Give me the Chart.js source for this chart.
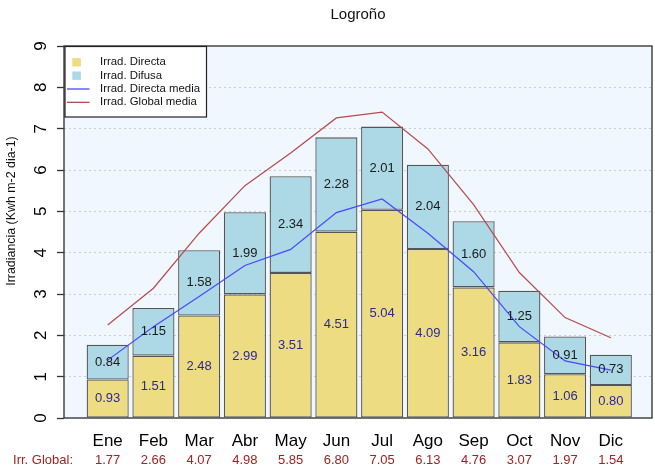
<!DOCTYPE html>
<html>
<head>
<meta charset="utf-8">
<script src="https://cdn.jsdelivr.net/npm/chart.js@4.4.1/dist/chart.umd.min.js"></script>
<style>
  html, body { margin: 0; padding: 0; background: #ffffff; }
  #wrap { width: 655px; height: 473px; }
</style>
</head>
<body>
<div id="wrap"><canvas id="chart" width="655" height="473"></canvas></div>
<script>
// Monthly irradiance for Logroño (kWh m-2 day-1)
const months = ['Ene', 'Feb', 'Mar', 'Abr', 'May', 'Jun', 'Jul', 'Ago', 'Sep', 'Oct', 'Nov', 'Dic'];
const directa = [0.93, 1.51, 2.48, 2.99, 3.51, 4.51, 5.04, 4.09, 3.16, 1.83, 1.06, 0.80];
const difusa = [0.84, 1.15, 1.58, 1.99, 2.34, 2.28, 2.01, 2.04, 1.60, 1.25, 0.91, 0.73];
const irrGlobal = [1.77, 2.66, 4.07, 4.98, 5.85, 6.80, 7.05, 6.13, 4.76, 3.07, 1.97, 1.54];
const directaMedia = [1.40, 2.21, 2.94, 3.69, 4.08, 4.97, 5.30, 4.47, 3.54, 2.21, 1.38, 1.16];
const globalMedia = [2.25, 3.14, 4.47, 5.62, 6.41, 7.26, 7.40, 6.51, 5.16, 3.52, 2.43, 1.94];
const yTicks = [0, 1, 2, 3, 4, 5, 6, 7, 8, 9];

const FONT = '"Liberation Sans", Arial, Helvetica, sans-serif';
const COL_DIRECTA = '#EEDC82';
const COL_DIFUSA = '#ADD8E6';
const COL_LINE_DIR = '#4848FF';
const COL_LINE_GLOB = '#B84A4A';

const pts = arr => arr.map((v, i) => ({ x: i, y: v }));

const decor = {
  id: 'decor',
  beforeDraw(chart) {
    const { ctx, chartArea: a } = chart;
    ctx.save();
    ctx.fillStyle = '#F0F7FF';
    ctx.fillRect(a.left, a.top, a.right - a.left, a.bottom - a.top);
    ctx.restore();
  },
  afterDatasetsDraw(chart) {
    const { ctx, chartArea: a } = chart;
    const xs = chart.scales.x, ys = chart.scales.y;
    ctx.save();
    // value labels inside each segment
    ctx.textAlign = 'center';
    ctx.textBaseline = 'middle';
    ctx.font = '13px ' + FONT;
    months.forEach((m, i) => {
      const x = xs.getPixelForValue(i);
      ctx.fillStyle = '#2A2A96';
      ctx.fillText(directa[i].toFixed(2), x, ys.getPixelForValue(directa[i] / 2));
      ctx.fillStyle = '#1A1A1A';
      ctx.fillText(difusa[i].toFixed(2), x, ys.getPixelForValue(directa[i] + difusa[i] / 2));
    });
    // panel frame
    ctx.strokeStyle = '#3A3A3A';
    ctx.lineWidth = 1.4;
    ctx.strokeRect(a.left, a.top, a.right - a.left, a.bottom - a.top);
    // legend box
    const lx = 65, ly = 46.5, lw = 141.5, lh = 70.5;
    ctx.fillStyle = '#FFFFFF';
    ctx.fillRect(lx, ly, lw, lh);
    ctx.strokeStyle = '#222222';
    ctx.lineWidth = 1.2;
    ctx.strokeRect(lx, ly, lw, lh);
    const items = [
      { label: 'Irrad. Directa', kind: 'box', color: COL_DIRECTA },
      { label: 'Irrad. Difusa', kind: 'box', color: COL_DIFUSA },
      { label: 'Irrad. Directa media', kind: 'line', color: COL_LINE_DIR },
      { label: 'Irrad. Global media', kind: 'line', color: COL_LINE_GLOB }
    ];
    ctx.font = '11.4px ' + FONT;
    ctx.textAlign = 'left';
    items.forEach((it, k) => {
      const cy = 62.3 + k * 13.35;
      if (it.kind === 'box') {
        ctx.fillStyle = it.color;
        ctx.fillRect(72.3, cy - 4.2, 8.6, 8.4);
      } else {
        ctx.strokeStyle = it.color;
        ctx.lineWidth = 1.3;
        ctx.beginPath();
        ctx.moveTo(67, cy);
        ctx.lineTo(89.5, cy);
        ctx.stroke();
      }
      ctx.fillStyle = '#111111';
      ctx.fillText(it.label, 100, cy);
    });
    ctx.restore();
  },
  afterDraw(chart) {
    const { ctx } = chart;
    const xs = chart.scales.x, ys = chart.scales.y;
    ctx.save();
    // y tick labels, written along the axis
    ctx.fillStyle = '#000000';
    ctx.font = '17px ' + FONT;
    ctx.textAlign = 'center';
    ctx.textBaseline = 'middle';
    yTicks.forEach(v => {
      const y = ys.getPixelForValue(v);
      ctx.save();
      ctx.translate(41, y);
      ctx.rotate(-Math.PI / 2);
      ctx.fillText(String(v), 0, 0);
      ctx.restore();
    });
    // y axis title
    ctx.save();
    ctx.font = '12.4px ' + FONT;
    ctx.fillStyle = '#111111';
    ctx.translate(12, 211);
    ctx.rotate(-Math.PI / 2);
    ctx.fillText('Irradiancia (Kwh m-2 dia-1)', 0, 0);
    ctx.restore();
    // global irradiance row under the month names
    ctx.fillStyle = '#A52222';
    ctx.font = '13px ' + FONT;
    ctx.textAlign = 'right';
    ctx.fillText('Irr. Global:', 73, 460);
    ctx.textAlign = 'center';
    months.forEach((m, i) => {
      ctx.fillText(irrGlobal[i].toFixed(2), xs.getPixelForValue(i), 460);
    });
    ctx.restore();
  }
};

new Chart(document.getElementById('chart'), {
  type: 'bar',
  data: {
    datasets: [
      {
        type: 'line', label: 'Irrad. Directa media', data: pts(directaMedia),
        borderColor: COL_LINE_DIR, borderWidth: 1.2, pointRadius: 0, tension: 0,
        stack: 'dirMedia', order: 0
      },
      {
        type: 'line', label: 'Irrad. Global media', data: pts(globalMedia),
        borderColor: COL_LINE_GLOB, borderWidth: 1.2, pointRadius: 0, tension: 0,
        stack: 'globMedia', order: 0
      },
      {
        label: 'Irrad. Directa', data: pts(directa),
        backgroundColor: COL_DIRECTA, borderColor: '#555555', borderWidth: 1.3,
        borderSkipped: false, barPercentage: 0.92, categoryPercentage: 1.0,
        stack: 'irr', order: 1
      },
      {
        label: 'Irrad. Difusa', data: pts(difusa),
        backgroundColor: COL_DIFUSA, borderColor: '#555555', borderWidth: 1.3,
        borderSkipped: false, barPercentage: 0.92, categoryPercentage: 1.0,
        stack: 'irr', order: 1
      }
    ]
  },
  options: {
    responsive: false,
    animation: false,
    layout: { padding: { left: 0, right: 3, top: 0, bottom: 0 } },
    plugins: {
      legend: { display: false },
      tooltip: { enabled: false },
      title: {
        display: true, text: 'Logroño', fullSize: false,
        color: '#111111', font: { family: FONT, size: 15, weight: 'normal' },
        padding: { top: 6, bottom: 22 }
      }
    },
    scales: {
      x: {
        type: 'linear', min: -0.955, max: 11.90, offset: false,
        grid: { display: false, offset: false }, border: { display: false },
        afterBuildTicks: s => { s.ticks = months.map((m, i) => ({ value: i })); },
        afterFit: s => { s.height = 55; },
        ticks: {
          color: '#000000', font: { family: FONT, size: 17 }, padding: 5,
          autoSkip: false, maxRotation: 0, minRotation: 0,
          callback: v => months[v]
        }
      },
      y: {
        min: 0, max: 9, stacked: true,
        afterBuildTicks: s => { s.ticks = yTicks.map(v => ({ value: v })); },
        afterFit: s => { s.width = 64; },
        border: { display: false, dash: [2, 3] },
        grid: {
          color: c => (c.tick && (c.tick.value === 0 || c.tick.value === 9)) ? 'rgba(0,0,0,0)' : '#C9CDD2',
          lineWidth: 1, drawTicks: true, tickLength: 7, tickColor: '#333333', tickWidth: 1.3,
          tickBorderDash: []
        },
        ticks: { display: false }
      }
    }
  },
  plugins: [decor]
});
</script>
</body>
</html>
